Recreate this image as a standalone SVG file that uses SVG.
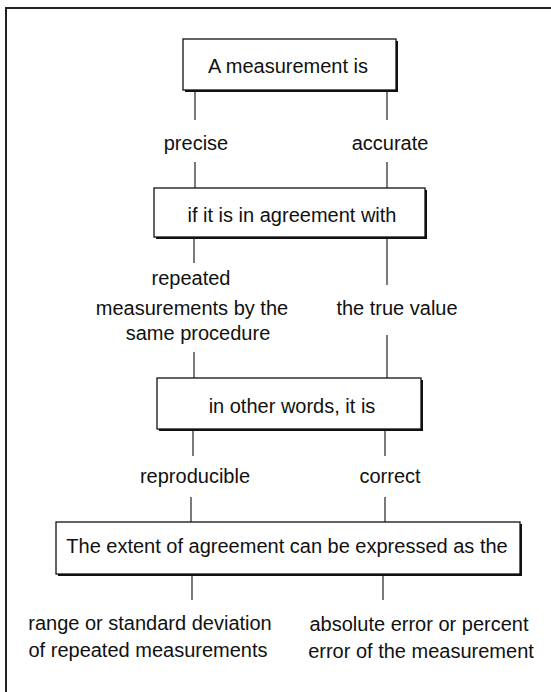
<svg xmlns="http://www.w3.org/2000/svg" width="551" height="692" viewBox="0 0 551 692">
<style>
.bg{fill:#fff}
.frame{fill:none;stroke:#222;stroke-width:2}
.box{fill:#fff;stroke:#111;stroke-width:1.3}
.shadow{fill:#111}
.conn{stroke:#222;stroke-width:1.2;fill:none}
text{font-family:"Liberation Sans",Arial,sans-serif;font-size:20px;fill:#111;text-anchor:middle}
</style>
<rect class="bg" x="0" y="0" width="551" height="692"/>
<path class="frame" d="M6,692 V8 H551"/>

<g id="connectors">
<line class="conn" x1="195" y1="90" x2="195" y2="120"/>
<line class="conn" x1="387" y1="90" x2="387" y2="120"/>
<line class="conn" x1="195" y1="162" x2="195" y2="188"/>
<line class="conn" x1="387" y1="162" x2="387" y2="188"/>
<line class="conn" x1="194" y1="238" x2="194" y2="263"/>
<line class="conn" x1="387" y1="238" x2="387" y2="285"/>
<line class="conn" x1="194" y1="352" x2="194" y2="378"/>
<line class="conn" x1="387" y1="335" x2="387" y2="378"/>
<line class="conn" x1="193" y1="430" x2="193" y2="456"/>
<line class="conn" x1="385" y1="430" x2="385" y2="456"/>
<line class="conn" x1="191" y1="497" x2="191" y2="522"/>
<line class="conn" x1="385" y1="497" x2="385" y2="522"/>
<line class="conn" x1="192" y1="575" x2="192" y2="600"/>
<line class="conn" x1="383" y1="575" x2="383" y2="600"/>
</g>

<g id="box-measurement">
<rect class="shadow" x="185" y="41" width="213" height="51"/>
<rect class="box" x="183" y="39" width="213" height="51"/>
<text x="288" y="73">A measurement is</text>
</g>

<g id="label-precise"><text x="196" y="150">precise</text></g>
<g id="label-accurate"><text x="390" y="150">accurate</text></g>

<g id="box-agreement">
<rect class="shadow" x="156" y="190" width="271" height="49"/>
<rect class="box" x="154" y="188" width="271" height="49"/>
<text x="292" y="222">if it is in agreement with</text>
</g>

<g id="label-repeated">
<text x="191" y="285">repeated</text>
<text x="192" y="315">measurements by the</text>
<text x="198" y="340">same procedure</text>
</g>
<g id="label-true-value"><text x="397" y="315">the true value</text></g>

<g id="box-other-words">
<rect class="shadow" x="159" y="380" width="264" height="51"/>
<rect class="box" x="157" y="378" width="264" height="51"/>
<text x="292" y="413">in other words, it is</text>
</g>

<g id="label-reproducible"><text x="195" y="483">reproducible</text></g>
<g id="label-correct"><text x="390" y="483">correct</text></g>

<g id="box-extent">
<rect class="shadow" x="58" y="524" width="464" height="52"/>
<rect class="box" x="56" y="522" width="464" height="52"/>
<text x="287" y="553">The extent of agreement can be expressed as the</text>
</g>

<g id="label-range">
<text x="150" y="630">range or standard deviation</text>
<text x="148" y="657">of repeated measurements</text>
</g>
<g id="label-absolute">
<text x="419" y="631">absolute error or percent</text>
<text x="421" y="658">error of the measurement</text>
</g>
</svg>
